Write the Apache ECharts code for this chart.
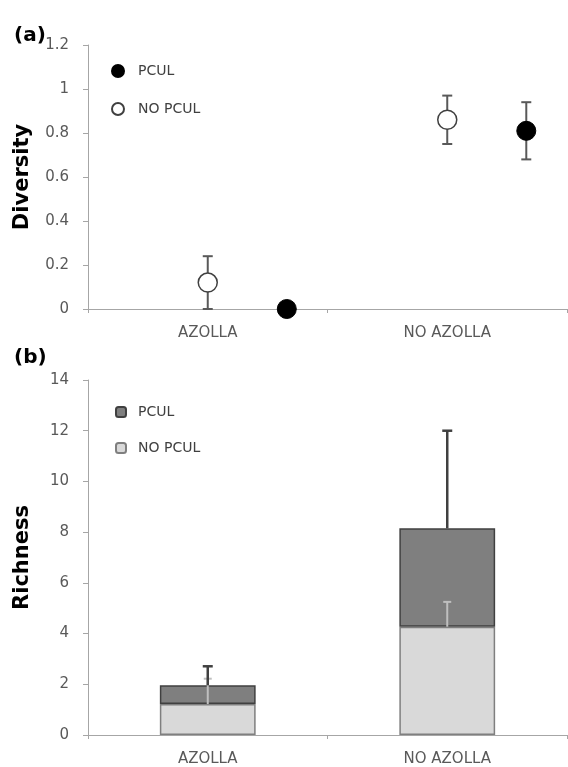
<!DOCTYPE html>
<html>
<head>
<meta charset="utf-8">
<script src="https://cdn.jsdelivr.net/npm/echarts@6/dist/echarts.min.js"></script>
<style>
  html,body{margin:0;padding:0;background:#fff;}
  #chart{width:568px;height:767px;}
</style>
</head>
<body>
<div id="chart"></div>
<script>
(function(){
  // ===== Dados =====
  const groups = ['AZOLLA', 'NO AZOLLA'];

  // (a) Diversity: mean +- SE
  const divPcul      = [0.00, 0.81];
  const divPculErr   = [0.00, 0.13];
  const divNoPcul    = [0.12, 0.86];
  const divNoPculErr = [0.12, 0.11];
  const divTicks     = [0, 0.2, 0.4, 0.6, 0.8, 1, 1.2];

  // (b) Richness: stacked (NO PCUL bottom, PCUL top), upper error only
  const richNoPcul    = [1.22, 4.27];
  const richNoPculErr = [1.00, 0.98];
  const richPcul      = [0.74, 3.88];
  const richPculErr   = [0.75, 3.85];
  const richTicks     = [0, 2, 4, 6, 8, 10, 12, 14];

  // ===== Estilo =====
  const FONT = '"DejaVu Sans", sans-serif';
  const AXIS_COLOR = '#a6a6a6';
  const LABEL_COLOR = '#595959';
  const PCUL_OFFSET = 0.33; // deslocamento do ponto PCUL dentro da categoria

  // ===== Error bar renderer =====
  function errBar(color, width, capHalf, upperOnly){
    return function(params, api){
      const x = api.value(0), lo = api.value(1), hi = api.value(2);
      if(hi === lo) return null;
      const pLo = api.coord([x, lo]), pHi = api.coord([x, hi]);
      const st = {stroke: color, lineWidth: width};
      const kids = [
        {type:'line', shape:{x1:pLo[0], y1:pLo[1], x2:pHi[0], y2:pHi[1]}, style:st},
        {type:'line', shape:{x1:pHi[0]-capHalf, y1:pHi[1], x2:pHi[0]+capHalf, y2:pHi[1]}, style:st}
      ];
      if(!upperOnly) kids.push({type:'line', shape:{x1:pLo[0]-capHalf, y1:pLo[1], x2:pLo[0]+capHalf, y2:pLo[1]}, style:st});
      return {type:'group', children:kids};
    };
  }

  // ===== Séries derivadas =====
  const xNo  = groups.map((_, i) => i + 0.5);
  const xPc  = groups.map((_, i) => i + 0.5 + PCUL_OFFSET);
  const divNoPts = divNoPcul.map((v, i) => [xNo[i], v]);
  const divPcPts = divPcul.map((v, i) => [xPc[i], v]);
  const divNoErr = divNoPcul.map((v, i) => [xNo[i], v - divNoPculErr[i], v + divNoPculErr[i]]);
  const divPcErr = divPcul.map((v, i) => [xPc[i], v - divPculErr[i], v + divPculErr[i]]);
  const richNoErr = richNoPcul.map((v, i) => [i, v, v + richNoPculErr[i]]);
  const richPcErr = richPcul.map((v, i) => {
    const tot = v + richNoPcul[i];
    return [i, tot, tot + richPculErr[i]];
  });

  function yAxisCommon(name, ticks, gridIndex){
    return {
      type:'value', gridIndex, min:ticks[0], max:ticks[ticks.length-1],
      interval:ticks[1]-ticks[0],
      name, nameLocation:'middle', nameGap:55,
      nameTextStyle:{fontFamily:FONT, fontWeight:'bold', fontSize:21, color:'#000'},
      axisLine:{show:true, lineStyle:{color:AXIS_COLOR, width:1}},
      axisTick:{show:true, length:5, lineStyle:{color:AXIS_COLOR}},
      axisLabel:{fontFamily:FONT, fontSize:15, color:LABEL_COLOR, margin:19,
        formatter: v => String(+v.toFixed(1))},
      splitLine:{show:false}
    };
  }
  function catAxis(gridIndex){
    return {
      type:'category', gridIndex, data:groups, boundaryGap:true,
      axisLine:{show:true, lineStyle:{color:AXIS_COLOR, width:1}},
      axisTick:{show:true, length:4, lineStyle:{color:AXIS_COLOR}},
      axisLabel:{fontFamily:FONT, fontSize:15, color:LABEL_COLOR, margin:17},
      splitLine:{show:false}
    };
  }

  const chart = echarts.init(document.getElementById('chart'), null, {renderer:'canvas'});
  chart.setOption({
    animation:false,
    backgroundColor:'#fff',
    title:[
      {text:'(a)', left:9, top:21, textStyle:{fontFamily:FONT, fontWeight:'bold', fontSize:20, color:'#000'}},
      {text:'(b)', left:9, top:343, textStyle:{fontFamily:FONT, fontWeight:'bold', fontSize:20, color:'#000'}}
    ],
    grid:[
      {left:88, right:1, top:45, height:264},
      {left:88, right:1, top:380, height:357}
    ],
    legend:[
      {
        data:['PCUL|a','NO PCUL|a'], orient:'vertical', left:111, top:64, padding:0,
        itemWidth:12, itemHeight:12, itemGap:24, icon:'circle', selectedMode:false,
        formatter: n => n.split('|')[0],
        textStyle:{fontFamily:FONT, fontSize:14, color:'#404040', padding:[0,0,0,9]}
      },
      {
        data:['PCUL|b','NO PCUL|b'], orient:'vertical', left:115, top:405, padding:0,
        itemWidth:10, itemHeight:10, itemGap:22, selectedMode:false,
        formatter: n => n.split('|')[0],
        textStyle:{fontFamily:FONT, fontSize:14, color:'#404040', padding:[0,0,0,7]}
      }
    ],
    xAxis:[
      catAxis(0),
      {type:'value', gridIndex:0, min:0, max:groups.length, show:false},
      catAxis(1)
    ],
    yAxis:[
      yAxisCommon('Diversity', divTicks, 0),
      yAxisCommon('Richness', richTicks, 1)
    ],
    series:[
      // ---- (a) ----
      {type:'custom', name:'errNo', xAxisIndex:1, yAxisIndex:0, z:1,
        renderItem:errBar('#595959', 2, 5, false), data:divNoErr},
      {type:'custom', name:'errPc', xAxisIndex:1, yAxisIndex:0, z:1,
        renderItem:errBar('#595959', 2, 5, false), data:divPcErr},
      {type:'scatter', name:'PCUL|a', xAxisIndex:1, yAxisIndex:0, z:3,
        symbol:'circle', symbolSize:19, data:divPcPts,
        itemStyle:{color:'#000', borderColor:'#000', borderWidth:1, opacity:1}},
      {type:'scatter', name:'NO PCUL|a', xAxisIndex:1, yAxisIndex:0, z:3,
        symbol:'circle', symbolSize:19, data:divNoPts,
        itemStyle:{color:'#fff', borderColor:'#404040', borderWidth:1.5, opacity:1}},
      // ---- (b) ----
      {type:'bar', name:'NO PCUL|b', xAxisIndex:2, yAxisIndex:1, stack:'rich',
        barWidth:'40%', data:richNoPcul,
        itemStyle:{color:'#d9d9d9', borderColor:'#7f7f7f', borderWidth:1.5}},
      {type:'bar', name:'PCUL|b', xAxisIndex:2, yAxisIndex:1, stack:'rich',
        barWidth:'40%', data:richPcul,
        itemStyle:{color:'#7f7f7f', borderColor:'#404040', borderWidth:1.5}},
      {type:'custom', name:'errRichNo', xAxisIndex:2, yAxisIndex:1, z:4,
        renderItem:errBar('#bfbfbf', 2, 4, true), data:richNoErr},
      {type:'custom', name:'errRichPc', xAxisIndex:2, yAxisIndex:1, z:4,
        renderItem:errBar('#404040', 2.5, 5, true), data:richPcErr}
    ]
  });

  window.addEventListener('resize', () => chart.resize());
})();
</script>
</body>
</html>
